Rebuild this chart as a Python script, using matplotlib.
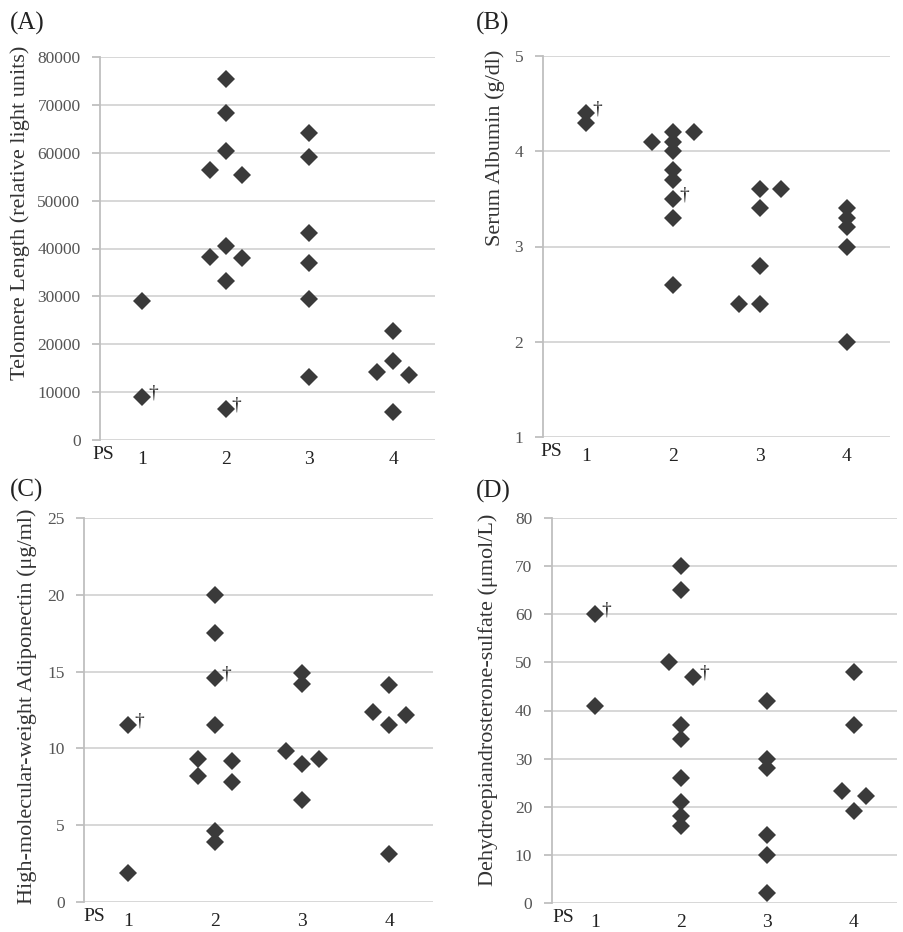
import matplotlib
matplotlib.use('Agg')
import matplotlib.pyplot as plt

# ---------------- data ----------------
categories = [1, 2, 3, 4]
tick_labels = ['1', '2', '3', '4']
axis_prefix = 'PS'

# Panel A: Telomere length
A_group = [1, 1, 2, 2, 2, 2, 2, 2, 2, 2, 2, 2, 3, 3, 3, 3, 3, 3, 4, 4, 4, 4, 4]
A_value = [29000, 9000, 75500, 68300, 60300, 56300, 55300, 40600, 38300, 38000, 33200, 6400,
           64100, 59100, 43300, 37000, 29500, 13200, 22800, 16400, 14300, 13600, 5900]
A_side = [0, 0, 0, 0, 0, -1, 1, 0, -1, 1, 0, 0, 0, 0, 0, 0, 0, 0, 0, 0, -1, 1, 0]
A_dagger = [0, 1, 0, 0, 0, 0, 0, 0, 0, 0, 0, 1, 0, 0, 0, 0, 0, 0, 0, 0, 0, 0, 0]

# Panel B: Serum albumin
B_group = [1, 1, 2, 2, 2, 2, 2, 2, 2, 2, 2, 2, 3, 3, 3, 3, 3, 3, 4, 4, 4, 4, 4]
B_value = [4.4, 4.3, 4.2, 4.1, 4.0, 3.8, 3.7, 3.5, 3.3, 2.6, 4.1, 4.2,
           3.6, 3.4, 2.8, 2.4, 2.4, 3.6, 3.4, 3.3, 3.2, 3.0, 2.0]
B_side = [0, 0, 0, 0, 0, 0, 0, 0, 0, 0, -1, 1, 0, 0, 0, 0, -1, 1, 0, 0, 0, 0, 0]
B_dagger = [1, 0, 0, 0, 0, 0, 0, 1, 0, 0, 0, 0, 0, 0, 0, 0, 0, 0, 0, 0, 0, 0, 0]

# Panel C: HMW adiponectin
C_group = [1, 1, 2, 2, 2, 2, 2, 2, 2, 2, 2, 2, 3, 3, 3, 3, 3, 3, 4, 4, 4, 4, 4]
C_value = [11.5, 1.9, 20.0, 17.5, 14.6, 11.5, 4.6, 3.9, 9.3, 8.2, 9.2, 7.8,
           14.9, 14.2, 9.0, 6.6, 9.8, 9.3, 14.1, 11.5, 3.1, 12.4, 12.2]
C_side = [0, 0, 0, 0, 0, 0, 0, 0, -1, -1, 1, 1, 0, 0, 0, 0, -1, 1, 0, 0, 0, -1, 1]
C_dagger = [1, 0, 0, 0, 1, 0, 0, 0, 0, 0, 0, 0, 0, 0, 0, 0, 0, 0, 0, 0, 0, 0, 0]

# Panel D: DHEA-S
D_group = [1, 1, 2, 2, 2, 2, 2, 2, 2, 2, 2, 2, 3, 3, 3, 3, 3, 3, 4, 4, 4, 4, 4]
D_value = [60, 41, 70, 65, 37, 34, 26, 21, 18, 16, 50, 47,
           42, 30, 28, 14, 10, 2, 48, 37, 19, 23.3, 22.2]
D_side = [0, 0, 0, 0, 0, 0, 0, 0, 0, 0, -1, 1, 0, 0, 0, 0, 0, 0, 0, 0, 0, -1, 1]
D_dagger = [1, 0, 0, 0, 0, 0, 0, 0, 0, 0, 0, 1, 0, 0, 0, 0, 0, 0, 0, 0, 0, 0, 0]

panel_letters = ['(A)', '(B)', '(C)', '(D)']
y_labels = ['Telomere Length (relative light units)', 'Serum Albumin (g/dl)',
            'High-molecular-weight Adiponectin (\u03bcg/ml)',
            'Dehydroepiandrosterone-sulfate (\u03bcmol/L)']
y_ranges = [(0, 80000, 10000), (1, 5, 1), (0, 25, 5), (0, 80, 10)]

# ---------------- layout / style ----------------
W, H = 904, 932
plt.rcParams['font.family'] = ['Liberation Serif', 'DejaVu Serif']
fig = plt.figure(figsize=(W / 100, H / 100), dpi=100)

# axes boxes in pixel coords: left, top, right, bottom
boxes = [(100, 57, 435, 440), (542.7, 56, 890, 437),
         (84.3, 518.3, 433, 901.7), (551.7, 518.3, 896.7, 902.7)]
offsets = [0.19, 0.24, 0.19, 0.14]
ylabel_pos = [(20, 213), (495, 148), (27, 706), (488, 700)]
letter_pos = [(27, 23), (493, 23), (27, 490), (493, 491)]
ps_x = [0.54, 0.6, 0.62, 0.63]

grid_c = '#d4d4d4'
tick_c = '#555555'
marker_c = '#3a3a3a'

datasets = [(A_group, A_value, A_side, A_dagger), (B_group, B_value, B_side, B_dagger),
            (C_group, C_value, C_side, C_dagger), (D_group, D_value, D_side, D_dagger)]

for i, (grp, val, side, dag) in enumerate(datasets):
    l, t, r, b = boxes[i]
    ax = fig.add_axes([l / W, 1 - b / H, (r - l) / W, (b - t) / H])
    lo, hi, step = y_ranges[i]
    xs = [g + s * offsets[i] for g, s in zip(grp, side)]
    ax.plot(xs, val, linestyle='none', marker='D', markersize=9,
            color=marker_c, markeredgewidth=0, zorder=3, clip_on=False)
    for x, y, d in zip(xs, val, dag):
        if d:
            ax.annotate('\u2020', (x, y), xytext=(8, 3), textcoords='offset points',
                        ha='center', va='center', fontsize=14, color='#222222')
    ax.set_xlim(0.5, 4.5)
    ax.set_ylim(lo, hi)
    ticks = list(range(lo, hi + 1, step))
    ax.set_yticks(ticks)
    ax.set_yticklabels([str(v) for v in ticks])
    ax.set_xticks(categories)
    ax.set_xticklabels(tick_labels)
    ax.yaxis.grid(True, color=grid_c, linewidth=1.3)
    ax.set_axisbelow(True)
    for sp in ['top', 'right', 'bottom']:
        ax.spines[sp].set_visible(False)
    ax.spines['left'].set_color('#bfbfbf')
    ax.spines['left'].set_linewidth(1.3)
    ax.tick_params(axis='y', length=6, width=1.3, color='#bfbfbf', pad=8,
                   labelsize=12.5, labelcolor=tick_c)
    ax.tick_params(axis='x', length=0, pad=8, labelsize=14, labelcolor='#222222')
    ax.text(ps_x[i], -0.038, axis_prefix, transform=ax.get_xaxis_transform(),
            ha='center', va='center', fontsize=14, color='#222222')
    fig.text(ylabel_pos[i][0] / W, 1 - ylabel_pos[i][1] / H, y_labels[i], rotation=90,
             ha='center', va='center', fontsize=16, color='#333333')
    fig.text(letter_pos[i][0] / W, 1 - letter_pos[i][1] / H, panel_letters[i],
             ha='center', va='center', fontsize=18, color='#222222')

fig.savefig('out.png', dpi=100, facecolor='white')
